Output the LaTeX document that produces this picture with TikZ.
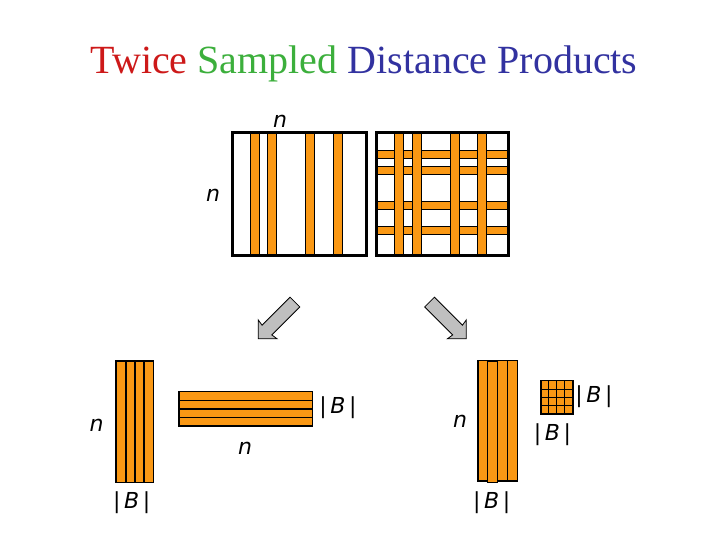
\documentclass[tikz,border=0pt]{standalone}
\usepackage{fontspec}
\setmainfont{Liberation Serif}
\newfontfamily\dimfont{DejaVu Sans}
\usetikzlibrary{shapes.arrows}
\definecolor{stripe}{RGB}{250,152,20}
\definecolor{twicered}{RGB}{205,25,25}
\definecolor{samplegreen}{RGB}{60,175,60}
\definecolor{distblue}{RGB}{50,50,160}

\begin{document}
\begin{tikzpicture}[
    x=1pt, y=-1pt,
    frame/.style={draw, line width=3pt, inner sep=0pt},
    band/.style={draw, fill=stripe, line width=0.8pt},
    slab/.style={draw, fill=stripe, line width=1.6pt, inner sep=0pt},
    dimlabel/.style={font=\dimfont\itshape\fontsize{22}{22}\selectfont, inner sep=0pt},
    bigarrow/.style={
        single arrow,
        draw,
        fill=gray!50,
        line width=0.8pt,
        text height=0pt,
        text depth=0pt,
        inner xsep=0pt,
        inner ysep=6.5pt,
        minimum height=52pt,
        single arrow head extend=6.5pt,
        single arrow head indent=1pt
    }
]
\useasboundingbox (0,0) rectangle (720,540);

\node (title) at (364,64) {\fontsize{40}{40}\selectfont
    \textcolor{twicered}{Twice} \textcolor{samplegreen}{Sampled}
    \textcolor{distblue}{Distance Products}};

% sampled columns
\foreach \x in {250.7,267.7,305.7,333.3}
    \draw[band] (\x,133) rectangle ++(9,122);
\node[frame, minimum width=134pt, minimum height=122pt] (cols) at (299.7,194) {};
\node[dimlabel] (ntop) at (280,121) {n};
\node[dimlabel] (nleft) at (213,195) {n};

% sampled rows and columns
\foreach \y in {150.7,166.3,201.7,226.7}
    \draw[band] (376,\y) rectangle ++(132.3,8);
\foreach \x in {394.3,412,450.7,477.7}
    \draw[band] (\x,133) rectangle ++(9,122);
\node[frame, minimum width=132.3pt, minimum height=122pt] (grid) at (442.2,194) {};

% arrows
\node[bigarrow, rotate=225] (toleft) at (279,318) {};
\node[bigarrow, rotate=315] (toright) at (445.5,318) {};

% n x |B| times |B| x n
\node[slab, minimum width=37.6pt, minimum height=121.6pt] (tallA) at (134.5,421.5) {};
\foreach \x in {125.7,135,144}
    \draw[line width=1.6pt] (\x,360.7) -- (\x,482.3);
\node[dimlabel] (nA) at (96.7,425) {n};
\node[dimlabel] (bA) at (131.7,503) {|\,B\,|};

\node[slab, minimum width=133.6pt, minimum height=34.3pt] (wideA) at (245.5,408.8) {};
\foreach \y in {400.3,408.8,417.4}
    \draw[line width=1.6pt] (178.7,\y) -- (312.3,\y);
\node[dimlabel] (bW) at (338,408) {|\,B\,|};
\node[dimlabel] (nW) at (245,448) {n};

% n x |B| and |B| x |B|
\node[slab, minimum width=39.6pt, minimum height=120.3pt] (tallB) at (497.5,420.8) {};
\draw[slab] (487.6,360.7) rectangle (497.5,482.3);
\foreach \x in {507.4}
    \draw[line width=1.6pt] (\x,360.7) -- (\x,481);
\node[dimlabel] (nB) at (460,421.7) {n};
\node[dimlabel] (bB) at (491.7,503) {|\,B\,|};

\node[slab, minimum width=32pt, minimum height=33.3pt] (small) at (556.7,397.3) {};
\foreach \i in {1,2,3} {
    \draw[line width=0.8pt] (540.7+8*\i,380.7) -- (540.7+8*\i,414);
    \draw[line width=0.8pt] (540.7,380.7+8.3*\i) -- (572.7,380.7+8.3*\i);
}
\node[dimlabel] (bS) at (594,396.7) {|\,B\,|};
\node[dimlabel] (bS2) at (552.5,435) {|\,B\,|};
\end{tikzpicture}
\end{document}
